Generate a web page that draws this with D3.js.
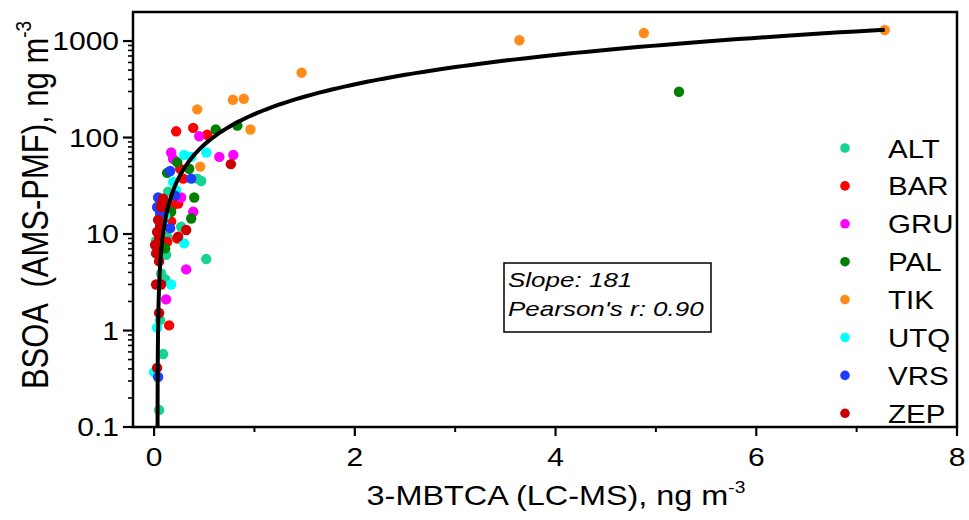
<!DOCTYPE html>
<html><head><meta charset="utf-8">
<script src="https://cdn.jsdelivr.net/npm/d3@7"></script>
<style>
body{margin:0;background:#fff}
svg{display:block}
text{font-family:Arial,"Liberation Sans",sans-serif;fill:#000;white-space:pre}
</style>
</head><body>
<svg id="c" width="969" height="520"></svg>
<script>
// ---- data (x = 3-MBTCA ng m-3, y = BSOA ng m-3) ----
const seriesNames = ["ALT","BAR","GRU","PAL","TIK","UTQ","VRS","ZEP"];
const seriesColors = ["#17d393","#ff0000","#ff00ff","#008000","#ff8c1a","#00ffff","#1f3cff","#cc0000"];

const ALT = [[0.47,35.4],[0.43,37.5],[0.14,27.5],[0.27,11.9],[0.12,6.1],[0.52,5.5],[0.07,3.9],[0.11,3.4],
             [0.06,1.28],[0.09,0.57],[0.05,0.15],[0.13,9.4],[0.06,10.5],[0.10,7.0],[0.04,6.8],[0.08,15],[0.12,21],[0.02,8.5]];
const BAR = [[0.22,116],[0.39,126],[0.53,107],[0.26,47.5],[0.29,37.5],[0.24,20.7],[0.19,19.9],[0.17,13.5],
             [0.23,9.0],[0.13,8.3],[0.15,1.13]];
const GRU = [[0.45,103],[0.17,70],[0.65,63],[0.79,66],[0.19,60],[0.27,23.9],[0.39,17],[0.32,4.3],[0.12,2.1]];
const PAL = [[5.23,298],[0.615,121],[0.83,133],[0.23,55.6],[0.35,47.5],[0.13,43],[0.40,23.9],[0.37,14.5],
             [0.17,17],[0.11,7.1]];
const TIK = [[7.28,1300],[4.88,1210],[3.64,1020],[1.47,470],[0.785,246],[0.894,252],[0.43,196],[0.96,121],[0.46,50]];
const UTQ = [[0.30,66],[0.52,70],[0.37,63],[0.19,34.7],[0.22,28.5],[0.30,8.0],[0.17,3.0],[0.03,1.07],
             [0.0,0.37],[0.05,9],[0.11,15.5],[0.09,12.5]];
const VRS = [[0.16,45],[0.37,37.5],[0.04,23.9],[0.21,25],[0.09,17],[0.06,12.4],[0.06,16.3],[0.16,11.5],[0.04,0.33],
             [0.03,19],[0.08,20.5]];
const ZEP = [[0.765,53],[0.09,23.3],[0.06,11.5],[0.32,11],[0.05,9.0],[0.03,7.4],[0.02,6.3],[0.05,5.2],[0.02,3.0],
             [0.07,3.0],[0.05,1.52],[0.03,0.41],[0.24,9.4],[0.01,7.7],[0.08,21],[0.07,19],[0.04,14],[0.03,10.5]];
const seriesData = [ALT,BAR,GRU,PAL,TIK,UTQ,VRS,ZEP];

const xMajorTicks = [0,2,4,6,8];
const xMinorTicks = [1,3,5,7];
const yMajorTicks = [0.1,1,10,100,1000];
const yTickLabels = ["0.1","1","10","100","1000"];

const fitSlope = 181, fitIntercept = -6.2, fitXMax = 7.28;
const boxLines = ["Slope: 181","Pearson's r: 0.90"];
const xTitle = "3-MBTCA (LC-MS), ng m", yTitle = "BSOA  (AMS-PMF), ng m", unitSup = "-3";

// ---- layout ----
const svg = d3.select("#c");
const L = 133, R = 957, T = 12, B = 427;
const SX = 1.2; // horizontal stretch of glyphs as in reference
const x = d3.scaleLinear().domain([-0.21, 8]).range([L, R]);
const y = d3.scaleLog().domain([0.1, 2000]).range([B, T]);

function txt(g, px, py, s, size, anchor, opts={}) {
  const t = g.append("text")
    .attr("transform", `translate(${px},${py}) scale(${opts.sx||SX},1)`)
    .attr("text-anchor", anchor).attr("font-size", size);
  if (opts.italic) t.attr("font-style","italic");
  t.text(s);
  return t;
}

// fit line (computed from slope/intercept)
const fitPts = d3.range(-1, 3.2, 0.01).map(l => Math.pow(10,l))
  .map(v => [(v - fitIntercept)/fitSlope, v]).filter(p => p[0] <= fitXMax);
fitPts.push([fitXMax, fitSlope*fitXMax + fitIntercept]);

// points
const gp = svg.append("g");
seriesData.forEach((d,i) => {
  gp.selectAll(null).data(d).join("circle")
    .attr("cx", p => x(p[0])).attr("cy", p => y(p[1])).attr("r", 5.2)
    .attr("fill", seriesColors[i]);
});

svg.append("path").datum(fitPts)
  .attr("d", d3.line().x(p => x(p[0])).y(p => y(p[1])))
  .attr("fill","none").attr("stroke","#000").attr("stroke-width",4);

// frame
svg.append("rect").attr("x",L).attr("y",T).attr("width",R-L).attr("height",B-T)
  .attr("fill","none").attr("stroke","#000").attr("stroke-width",2.5);

// x axis ticks
const gx = svg.append("g");
gx.selectAll(null).data(xMajorTicks).join("line")
  .attr("x1", d=>x(d)).attr("x2", d=>x(d)).attr("y1", B).attr("y2", B+9)
  .attr("stroke","#000").attr("stroke-width",2.2);
gx.selectAll(null).data(xMinorTicks).join("line")
  .attr("x1", d=>x(d)).attr("x2", d=>x(d)).attr("y1", B).attr("y2", B+5)
  .attr("stroke","#000").attr("stroke-width",2);
xMajorTicks.forEach(v => txt(gx, x(v), 466, String(v), 25, "middle"));

// y axis ticks
const gy = svg.append("g");
const yMinor = [];
[0.1,1,10,100,1000].forEach(dec => { for (let k=2;k<=9;k++){ const v=dec*k; if (v<2000) yMinor.push(v);} });
gy.selectAll(null).data(yMinor).join("line")
  .attr("x1", L-5).attr("x2", L).attr("y1", d=>y(d)).attr("y2", d=>y(d))
  .attr("stroke","#000").attr("stroke-width",1.6);
gy.selectAll(null).data(yMajorTicks).join("line")
  .attr("x1", L-10).attr("x2", L).attr("y1", d=>y(d)).attr("y2", d=>y(d))
  .attr("stroke","#000").attr("stroke-width",2.2);
yMajorTicks.forEach((v,i) => txt(gy, 119, y(v)+9, yTickLabels[i], 25, "end"));

// axis titles
const xt = svg.append("text").attr("transform", `translate(556,505) scale(${SX},1)`)
  .attr("text-anchor","middle").attr("font-size",27);
xt.append("tspan").text(xTitle);
xt.append("tspan").attr("font-size",16).attr("dy",-12).text(unitSup);

const yt = svg.append("text").attr("transform", `translate(48,205) rotate(-90) scale(1,${SX})`)
  .attr("text-anchor","middle").attr("font-size",31);
yt.append("tspan").text(yTitle);
yt.append("tspan").attr("font-size",19).attr("dy",-14).text(unitSup);

// legend
const lg = svg.append("g");
seriesNames.forEach((n,i) => {
  const cy = 148 + i*37.9;
  lg.append("circle").attr("cx",845).attr("cy",cy).attr("r",4.8).attr("fill",seriesColors[i]);
  txt(lg, 888, cy+9.5, n, 25, "start", {sx:1.18});
});

// stats box
const bx = svg.append("g");
bx.append("rect").attr("x",504).attr("y",263).attr("width",207).attr("height",69)
  .attr("fill","#fff").attr("stroke","#000").attr("stroke-width",1.5);
txt(bx, 508, 287, boxLines[0], 20, "start", {italic:true, sx:1.3});
txt(bx, 508, 316, boxLines[1], 20, "start", {italic:true, sx:1.3});
</script>
</body></html>
